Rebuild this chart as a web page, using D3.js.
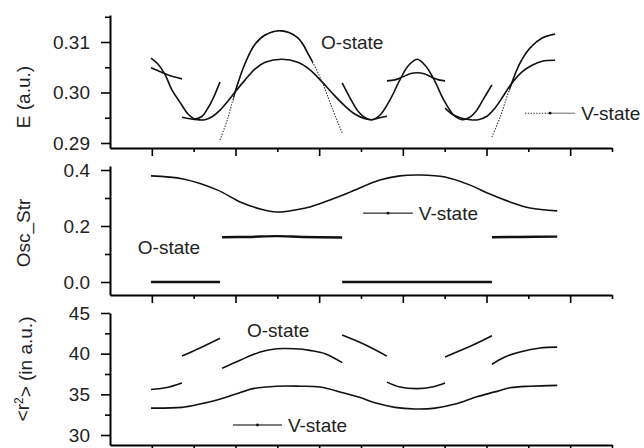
<!DOCTYPE html>
<html>
<head>
<meta charset="utf-8">
<script src="https://cdn.jsdelivr.net/npm/d3@7"></script>
<style>
  body { margin: 0; background: #fff; }
  svg { display: block; font-family: "Liberation Sans", Arial, sans-serif; }
  .axis path, .axis line { stroke: #000; }
  .axis path { stroke-width: 2; }
  .axis line { stroke-width: 1.6; }
  .axis text { font-family: "Liberation Sans", Arial, sans-serif; font-size: 19px; fill: #222; }
  .curve { fill: none; stroke: #111; stroke-width: 1.6; }
  .tail { fill: none; stroke: #333; stroke-width: 1.1; stroke-dasharray: 1.4,1.4; }
  .flat { fill: none; stroke: #111; stroke-width: 2.4; }
  .lab { font-size: 19px; fill: #222; }
</style>
</head>
<body>
<div id="chart"></div>
<script>
// x axis carries no labels, only ticks (odd = long, even = short)
var xMajor = [1, 3, 5, 7, 9, 11];
var xMinor = [2, 4, 6, 8, 10, 12];

// ---- top panel: E (a.u.)
var eMajor = [0.29, 0.30, 0.31];
var eMinor = [0.295, 0.305, 0.315];
var eSegP = [[0.98,0.3068],[1.15,0.3056],[1.32,0.3035],[1.48,0.3005],[1.67,0.2981],[1.87,0.2957],[2.03,0.2948],[2.20,0.2953],[2.34,0.2969],[2.49,0.2993],[2.63,0.3021]];
var eSegQ = [[0.98,0.3049],[1.15,0.3043],[1.32,0.3037],[1.48,0.3032],[1.72,0.3027]];
var eSegR1 = [[1.72,0.2951],[1.91,0.2948],[2.10,0.2946],[2.27,0.2946],[2.46,0.2953],[2.63,0.2965],[2.82,0.2983],[2.99,0.3001],[3.23,0.3025],[3.47,0.3047],[3.71,0.3060],[4.11,0.3066],[4.49,0.3060],[4.78,0.3045],[5.07,0.3021],[5.31,0.2999],[5.62,0.2973],[5.86,0.2957],[6.10,0.2948],[6.26,0.2946],[6.45,0.2950],[6.62,0.2953]];
var eSegU = [[5.55,0.3019],[5.74,0.2989],[5.93,0.2963],[6.10,0.2950],[6.26,0.2946],[6.45,0.2955],[6.69,0.2985],[6.93,0.3025],[7.12,0.3052],[7.34,0.3066],[7.55,0.3052],[7.75,0.3025],[7.98,0.2985],[8.22,0.2955],[8.42,0.2946],[8.58,0.2950],[8.75,0.2963],[8.94,0.2989],[9.13,0.3015]];
var eSegF = [[6.62,0.3023],[6.81,0.3025],[7.00,0.3031],[7.17,0.3037],[7.34,0.3039],[7.51,0.3037],[7.67,0.3031],[7.86,0.3025],[8.01,0.3023]];
var eSegR2 = [[8.01,0.2969],[8.18,0.2957],[8.37,0.2950],[8.61,0.2946],[8.80,0.2946],[9.01,0.2953],[9.20,0.2969],[9.40,0.2993],[9.61,0.3019],[9.85,0.3041],[10.09,0.3054],[10.33,0.3062],[10.64,0.3064]];
// steep V-state humps, dotted where the points are sparse
var eSegB1 = [[2.63,0.2906],[2.82,0.2950],[2.99,0.3001],[3.23,0.3058],[3.47,0.3096],[3.71,0.3114],[4.11,0.3122],[4.49,0.3108],[4.78,0.3070],[5.07,0.3021],[5.31,0.2969],[5.55,0.2920]];
var eSegB2 = [[9.13,0.2912],[9.32,0.2950],[9.56,0.3009],[9.80,0.3058],[10.04,0.3088],[10.33,0.3108],[10.64,0.3116]];
var b1Solid = [2.95, 4.85];
var b2Solid = [9.55, 10.7];

// ---- middle panel: Osc_Str
var oMajor = [0.0, 0.2, 0.4];
var oMinor = [0.1, 0.3];
var oscCurve = [[0.98,0.379],[1.75,0.368],[2.56,0.329],[3.11,0.286],[3.59,0.261],[3.99,0.250],[4.42,0.257],[4.78,0.268],[5.26,0.293],[5.74,0.321],[6.45,0.364],[6.93,0.379],[7.41,0.382],[8.01,0.375],[8.61,0.346],[9.08,0.314],[9.56,0.286],[10.04,0.264],[10.69,0.254]];
var oscO1 = [[0.98,0.0],[2.63,0.0]];
var oscO2 = [[5.55,0.0],[9.13,0.0]];
var oscV1 = [[2.68,0.160],[3.30,0.161],[3.99,0.164],[4.60,0.161],[5.55,0.159]];
var oscV2 = [[9.13,0.160],[9.80,0.161],[10.69,0.162]];

// ---- bottom panel: <r^2>
var rMajor = [30, 35, 40, 45];
var rMinor = [32.5, 37.5, 42.5];
var rLow = [[0.98,33.3],[1.72,33.4],[2.15,33.8],[2.56,34.3],[2.99,35.0],[3.42,35.7],[3.99,36.0],[4.54,36.0],[5.02,35.9],[5.57,35.2],[5.98,34.6],[6.38,33.9],[6.81,33.4],[7.29,33.2],[7.77,33.3],[8.25,33.8],[8.77,34.7],[9.20,35.3],[9.56,35.8],[10.04,36.0],[10.69,36.1]];
var rSegs = [
  [[0.98,35.6],[1.32,35.8],[1.72,36.4]],
  [[1.72,39.7],[2.15,40.7],[2.63,41.9]],
  [[2.68,38.2],[3.11,39.2],[3.59,40.2],[3.99,40.6],[4.42,40.6],[4.78,40.4],[5.14,40.0],[5.55,38.9]],
  [[5.55,42.3],[6.10,41.1],[6.62,39.7]],
  [[6.62,36.5],[6.93,35.9],[7.34,35.7],[7.70,35.9],[8.01,36.4]],
  [[8.01,39.6],[8.61,40.9],[9.13,42.2]],
  [[9.13,38.7],[9.44,39.6],[9.80,40.2],[10.28,40.7],[10.69,40.8]]
];

var svg = d3.select('#chart').append('svg')
    .attr('width', 644)
    .attr('height', 448);

var x = d3.scaleLinear().domain([0, 12]).range([110, 612]);

var yE = d3.scaleLinear().domain([0.28901, 0.31535]).range([148, 15]);
var yO = d3.scaleLinear().domain([-0.0464, 0.4143]).range([295, 166]);
var yR = d3.scaleLinear().domain([28.77, 45]).range([445, 313]);

function lineFor(y) {
  return d3.line()
      .x(d => x(d[0]))
      .y(d => y(d[1]))
      .curve(d3.curveCatmullRom.alpha(0.5));
}

function addAxes(y, major, minor, fmt) {
  var bottom = y.range()[0];

  svg.append('g')
      .attr('class', 'axis')
      .attr('transform', 'translate(110,0)')
      .call(d3.axisLeft(y).tickValues(minor).tickSize(5).tickSizeOuter(0).tickFormat(''))
      .select('.domain').remove();
  svg.append('g')
      .attr('class', 'axis')
      .attr('transform', 'translate(110,0)')
      .call(d3.axisLeft(y).tickValues(major).tickSize(9).tickPadding(11).tickSizeOuter(0).tickFormat(fmt));

  svg.append('g')
      .attr('class', 'axis')
      .attr('transform', `translate(0,${bottom})`)
      .call(d3.axisBottom(x).tickValues(xMinor).tickSize(4).tickSizeOuter(0).tickFormat(''))
      .select('.domain').remove();
  svg.append('g')
      .attr('class', 'axis')
      .attr('transform', `translate(0,${bottom})`)
      .call(d3.axisBottom(x).tickValues(xMajor).tickSize(8).tickSizeOuter(0).tickFormat(''));
}

function addTitle(cx, cy, txt) {
  return svg.append('text')
      .attr('class', 'lab')
      .attr('transform', `translate(${cx},${cy}) rotate(-90)`)
      .attr('text-anchor', 'middle')
      .attr('dy', '0.35em')
      .text(txt);
}

function addLegend(y, u0, u1, v, dottedLeft) {
  var g = svg.append('g').attr('class', 'legend');
  var mid = (u0 + u1) / 2;
  g.append('line')
      .attr('x1', x(u0)).attr('x2', x(mid))
      .attr('y1', y(v)).attr('y2', y(v))
      .attr('class', dottedLeft ? 'tail' : 'curve')
      .style('stroke-width', 1.1);
  g.append('line')
      .attr('x1', x(mid)).attr('x2', x(u1))
      .attr('y1', y(v)).attr('y2', y(v))
      .attr('class', 'curve')
      .style('stroke', dottedLeft ? '#777' : '#111')
      .style('stroke-width', 1.1);
  g.append('circle')
      .attr('cx', x(mid)).attr('cy', y(v)).attr('r', 1.4)
      .style('fill', '#111');
  g.append('text')
      .attr('class', 'lab')
      .attr('x', x(u1) + 6).attr('y', y(v))
      .attr('dy', '0.35em')
      .text('V-state');
}

function addLabel(y, u, v, txt) {
  svg.append('text')
      .attr('class', 'lab')
      .attr('x', x(u)).attr('y', y(v))
      .attr('text-anchor', 'middle')
      .attr('dy', '0.35em')
      .text(txt);
}

// clip rects for the solid part of the steep humps
var defs = svg.append('defs');
[b1Solid, b2Solid].forEach((r, i) => {
  defs.append('clipPath').attr('id', 'solid' + i)
    .append('rect')
      .attr('x', x(r[0])).attr('y', 0)
      .attr('width', x(r[1]) - x(r[0])).attr('height', 160);
});

// ---------- top panel
addAxes(yE, eMajor, eMinor, d3.format('.2f'));
var lE = lineFor(yE);
svg.append('g')
    .selectAll('path')
    .data([eSegP, eSegQ, eSegR1, eSegU, eSegF, eSegR2])
    .enter()
    .append('path')
    .attr('class', 'curve')
    .attr('d', lE);
[eSegB1, eSegB2].forEach((seg, i) => {
  svg.append('path').attr('class', 'tail').attr('d', lE(seg));
  svg.append('path').attr('class', 'curve')
      .attr('clip-path', `url(#solid${i})`)
      .attr('d', lE(seg));
});
addTitle(23, 97, 'E (a.u.)');
addLabel(yE, 5.79, 0.3100, 'O-state');
addLegend(yE, 9.92, 11.12, 0.2959, true);

// ---------- middle panel
addAxes(yO, oMajor, oMinor, d3.format('.1f'));
var lO = lineFor(yO);
svg.append('path').attr('class', 'curve').attr('d', lO(oscCurve));
svg.append('g')
    .selectAll('path')
    .data([oscO1, oscO2, oscV1, oscV2])
    .enter()
    .append('path')
    .attr('class', 'flat')
    .attr('d', lO);
addTitle(23, 233, 'Osc_Str');
addLabel(yO, 1.41, 0.125, 'O-state');
addLegend(yO, 6.05, 7.24, 0.246, false);

// ---------- bottom panel
addAxes(yR, rMajor, rMinor, d3.format('d'));
var lR = lineFor(yR);
svg.append('path').attr('class', 'curve').attr('d', lR(rLow));
svg.append('g')
    .selectAll('path')
    .data(rSegs)
    .enter()
    .append('path')
    .attr('class', 'curve')
    .attr('d', lR);
var rt = svg.append('text')
    .attr('class', 'lab')
    .attr('transform', 'translate(22,369) rotate(-90)')
    .attr('text-anchor', 'middle')
    .attr('dy', '0.35em');
rt.append('tspan').text('<r');
rt.append('tspan').attr('dy', '-0.45em').style('font-size', '12px').text('2');
rt.append('tspan').attr('dy', '0.45em').text('> (in a.u.)');
addLabel(yR, 4.02, 42.9, 'O-state');
addLegend(yR, 2.94, 4.11, 31.23, false);
</script>
</body>
</html>
